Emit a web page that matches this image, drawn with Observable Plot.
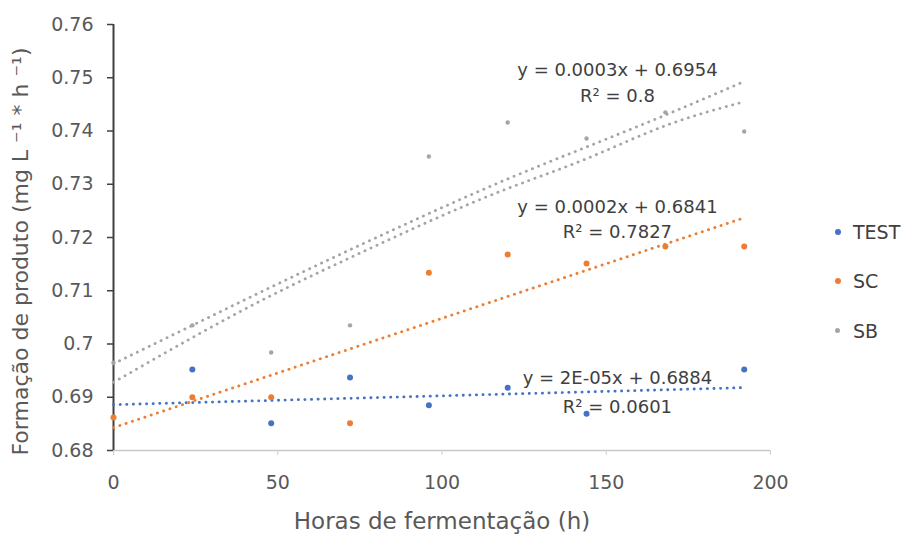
<!DOCTYPE html>
<html><head><meta charset="utf-8">
<script src="https://cdn.jsdelivr.net/npm/d3@7"></script>
<script src="https://cdn.jsdelivr.net/npm/@observablehq/plot@0.6"></script>
<style>
body{margin:0;background:#fff;}
#wrap{position:relative;width:907px;height:534px;font-family:"DejaVu Sans",sans-serif;}
.ld{position:absolute;width:6px;height:6px;border-radius:50%;}
.lt{position:absolute;font-size:19px;line-height:24px;height:24px;color:#404040;white-space:nowrap;}
</style></head><body><div id="wrap"></div>
<script>
// ---- data ----
const hours = [0, 24, 48, 72, 96, 120, 144, 168, 192];
const testValues = [null, 0.6952, 0.6851, 0.6937, 0.6885, 0.6918, 0.6869, null, 0.6952];
const scValues   = [0.6862, 0.6900, 0.6900, 0.6851, 0.7134, 0.7168, 0.7151, 0.7183, 0.7183];
const sbValues   = [0.6965, 0.7035, 0.6984, 0.7035, 0.7352, 0.7416, 0.7386, 0.7435, 0.7399];

// trendlines
const trendHours = [0, 192];
const testTrend = [0.6886, 0.6918];
const scTrend = [0.6843, 0.7237];
const sbUpperTrend = [0.6963, 0.7035, 0.7107, 0.7177, 0.7245, 0.7310, 0.7370, 0.7430, 0.7493];
const sbLowerTrend = [0.6928, 0.7012, 0.7091, 0.7162, 0.7230, 0.7292, 0.7348, 0.7410, 0.7455];

const seriesNames = ["TEST", "SC", "SB"];
const seriesColors = ["#4472C4", "#ED7D31", "#A5A5A5"];
const eqLabels = ["y = 0.0003x + 0.6954", "y = 0.0002x + 0.6841", "y = 2E-05x + 0.6884"];
const r2Labels = ["R² = 0.8", "R² = 0.7827", "R² = 0.0601"];
const eqYs = [0.7514, 0.7256, 0.6935];
const r2Ys = [0.7465, 0.7209, 0.6881];

const xTicks = [0, 50, 100, 150, 200];
const yTicks = [0.68, 0.69, 0.70, 0.71, 0.72, 0.73, 0.74, 0.75, 0.76];
const xTitle = "Horas de fermentação (h)";
const yTitle = "Formação de produto (mg L ⁻¹ * h ⁻¹)";

// ---- build tables ----
const pts = (vals) => hours.map((h, i) => ({h, v: vals[i]})).filter(d => d.v != null);
const tr = (hs, vals) => hs.map((h, i) => ({h, v: vals[i]}));

const dotted = {strokeWidth: 2.8, strokeDasharray: "0.2 6.4", strokeLinecap: "round"};

const chart = Plot.plot({
  width: 907, height: 534,
  marginLeft: 113, marginRight: 137, marginTop: 24, marginBottom: 84,
  style: {fontFamily: "DejaVu Sans, sans-serif", background: "white"},
  x: {domain: [0, 200]},
  y: {domain: [0.68, 0.76]},
  marks: [
    Plot.ruleY([0.68], {stroke: "#C8C8C8", strokeWidth: 1.5}),
    Plot.axisX(xTicks, {tickSize: 5, tickPadding: 20, fontSize: 19, fill: "#595959", stroke: "#D0D0D0", label: null}),
    Plot.axisY(yTicks, {tickSize: 6, tickPadding: 14, fontSize: 19, fill: "#595959", stroke: "#404040", strokeWidth: 1.5,
      tickFormat: d => String(+d.toFixed(2)), label: null}),
    Plot.ruleX([0], {stroke: "#404040", strokeWidth: 2}),
    Plot.line(tr(trendHours, testTrend), {x: "h", y: "v", stroke: seriesColors[0], ...dotted}),
    Plot.line(tr(trendHours, scTrend), {x: "h", y: "v", stroke: seriesColors[1], ...dotted}),
    Plot.line(tr(hours, sbUpperTrend), {x: "h", y: "v", stroke: seriesColors[2], curve: "natural", ...dotted}),
    Plot.line(tr(hours, sbLowerTrend), {x: "h", y: "v", stroke: seriesColors[2], curve: "natural", ...dotted}),
    Plot.dot(pts(testValues), {x: "h", y: "v", r: 3, fill: seriesColors[0]}),
    Plot.dot(pts(scValues), {x: "h", y: "v", r: 3, fill: seriesColors[1]}),
    Plot.dot(pts(sbValues), {x: "h", y: "v", r: 2.2, fill: seriesColors[2]}),
    Plot.text(eqLabels, {x: () => 153.4, y: (d, i) => eqYs[i], fontSize: 18, fill: "#404040", lineAnchor: "middle"}),
    Plot.text(r2Labels, {x: () => 153.4, y: (d, i) => r2Ys[i], fontSize: 18, fill: "#404040", lineAnchor: "middle"}),
    Plot.text([xTitle], {frameAnchor: "bottom", dy: 71, lineAnchor: "middle", textAnchor: "middle", fontSize: 23, fill: "#595959"}),
    Plot.text([yTitle], {frameAnchor: "left", rotate: -90, dx: -101, dy: 14, lineAnchor: "top", textAnchor: "middle", fontSize: 22, fill: "#595959"})
  ]
});
const wrap = document.getElementById("wrap");
wrap.appendChild(chart);

// legend (HTML, right of the plot)
const legendCenters = [232, 281, 331];
seriesNames.forEach((name, i) => {
  const d = document.createElement("div");
  d.className = "ld";
  d.style.left = "835px"; d.style.top = (legendCenters[i] - 3) + "px";
  d.style.background = seriesColors[i];
  if (i === 2) { d.style.width = "5px"; d.style.height = "5px"; }
  wrap.appendChild(d);
  const t = document.createElement("div");
  t.className = "lt";
  t.style.left = "853px"; t.style.top = (legendCenters[i] - 12) + "px";
  t.textContent = name;
  wrap.appendChild(t);
});
</script>
</body></html>
